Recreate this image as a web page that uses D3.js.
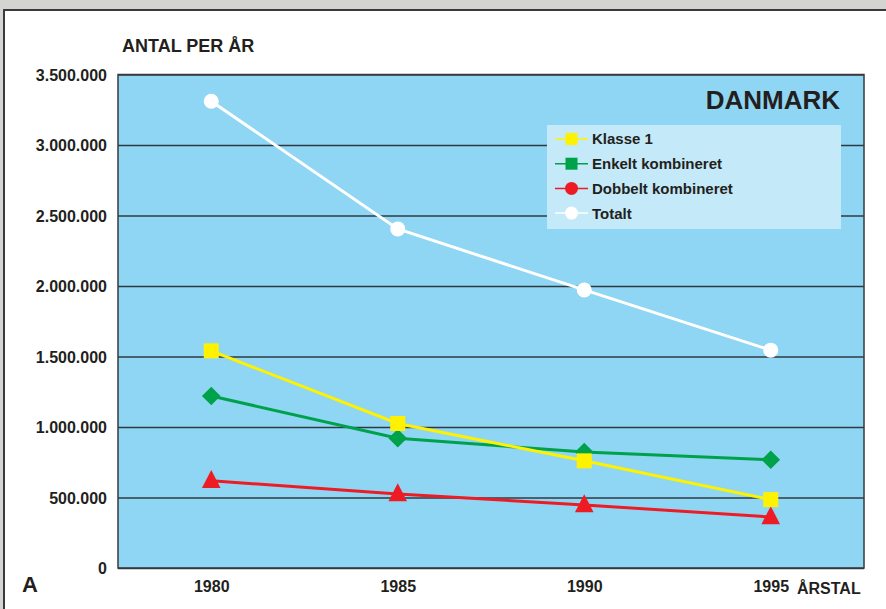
<!DOCTYPE html>
<html>
<head>
<meta charset="utf-8">
<script src="https://cdn.jsdelivr.net/npm/d3@7"></script>
<style>
  body { margin: 0; background: #d4d5d2; }
  svg { display: block; font-family: "Liberation Sans", Arial, sans-serif; font-weight: bold; }
</style>
</head>
<body>
<svg id="chart" width="886" height="609"></svg>
<script>
const years = [1980, 1985, 1990, 1995];
const klasse1 = [1540000, 1025000, 760000, 485000];
const enkelt = [1220000, 920000, 822000, 768000];
const dobbelt = [618000, 525000, 447000, 362000];
const totalt = [3310000, 2405000, 1972000, 1545000];
const yTicks = [0, 500000, 1000000, 1500000, 2000000, 2500000, 3000000, 3500000];
const seriesNames = ["Klasse 1", "Enkelt kombineret", "Dobbelt kombineret", "Totalt"];

const series = [
  { name: seriesNames[0], values: klasse1, color: "#fff200", marker: "square", legendMarker: "square" },
  { name: seriesNames[1], values: enkelt, color: "#00a14b", marker: "diamond", legendMarker: "square" },
  { name: seriesNames[2], values: dobbelt, color: "#ed1c24", marker: "triangle", legendMarker: "circle" },
  { name: seriesNames[3], values: totalt, color: "#ffffff", marker: "circle", legendMarker: "circle" }
];

const svg = d3.select("#chart");
// white page panel
svg.append("rect").attr("x", 4).attr("y", 10).attr("width", 900).attr("height", 620)
  .attr("fill", "#fff").attr("stroke", "#3a3a3a").attr("stroke-width", 2);

const plot = { left: 118, right: 864, top: 74.5, bottom: 568 };

const x = d3.scaleLinear().domain([1977.5, 1997.5]).range([plot.left, plot.right]);
const y = d3.scaleLinear().domain([0, 3500000]).range([plot.bottom, plot.top]);
const fmt = v => d3.format(",")(v).replace(/,/g, ".");

svg.append("rect").attr("x", plot.left).attr("y", plot.top)
  .attr("width", plot.right - plot.left).attr("height", plot.bottom - plot.top)
  .attr("fill", "#8fd6f4");

// grid lines
const yAxis = d3.axisLeft(y).tickValues(yTicks).tickSize(-(plot.right - plot.left)).tickFormat(fmt).tickPadding(12);
const yg = svg.append("g").attr("transform", `translate(${plot.left},0)`).call(yAxis);
yg.select(".domain").remove();
yg.selectAll(".tick line").attr("stroke", "#2f3a40").attr("stroke-width", 1.3);
yg.selectAll(".tick text").attr("fill", "#231f20").attr("font-size", 16)
  .attr("font-family", "Liberation Sans, Arial, sans-serif").attr("font-weight", "bold")
  .attr("x", -11).attr("dy", "0.35em");

// plot border
svg.append("rect").attr("x", plot.left).attr("y", plot.top)
  .attr("width", plot.right - plot.left).attr("height", plot.bottom - plot.top)
  .attr("fill", "none").attr("stroke", "#3a3a3a").attr("stroke-width", 1.5);

const xAxis = d3.axisBottom(x).tickValues(years).tickSize(0).tickFormat(d3.format("d")).tickPadding(13);
const xg = svg.append("g").attr("transform", `translate(0,${plot.bottom})`).call(xAxis);
xg.select(".domain").remove();
xg.selectAll(".tick text").attr("fill", "#231f20").attr("font-size", 16)
  .attr("font-family", "Liberation Sans, Arial, sans-serif").attr("font-weight", "bold");

svg.append("text").attr("x", 797).attr("y", 594).attr("font-size", 16).attr("fill", "#231f20").text("ÅRSTAL");
svg.append("text").attr("x", 122).attr("y", 52).attr("font-size", 18).attr("fill", "#231f20").text("ANTAL PER ÅR");
svg.append("text").attr("x", 22).attr("y", 592).attr("font-size", 22).attr("fill", "#231f20").text("A");
svg.append("text").attr("x", 840).attr("y", 109).attr("text-anchor", "end").attr("font-size", 26).attr("fill", "#231f20").text("DANMARK");

function drawMarker(g, type, color, cx, cy, s) {
  if (type === "square") {
    g.append("rect").attr("x", cx - s / 2).attr("y", cy - s / 2).attr("width", s).attr("height", s).attr("fill", color);
  } else if (type === "diamond") {
    const r = s * 0.62;
    g.append("path").attr("d", `M${cx},${cy - r}L${cx + r},${cy}L${cx},${cy + r}L${cx - r},${cy}Z`).attr("fill", color);
  } else if (type === "triangle") {
    const h = s * 1.2;
    g.append("path").attr("d", `M${cx},${cy - h * 0.6}L${cx + s * 0.62},${cy + h * 0.4}L${cx - s * 0.62},${cy + h * 0.4}Z`).attr("fill", color);
  } else {
    g.append("circle").attr("cx", cx).attr("cy", cy).attr("r", s / 2).attr("fill", color);
  }
}

const line = d3.line().x((d, i) => x(years[i])).y(d => y(d));
const draw = [series[3], series[2], series[1], series[0]];
draw.forEach(s => {
  svg.append("path").attr("d", line(s.values)).attr("fill", "none")
    .attr("stroke", s.color).attr("stroke-width", 3);
});
draw.forEach(s => {
  const g = svg.append("g");
  s.values.forEach((v, i) => drawMarker(g, s.marker, s.color, x(years[i]), y(v), 15));
});

// legend
const lg = svg.append("g");
lg.append("rect").attr("x", 547).attr("y", 125).attr("width", 294).attr("height", 104).attr("fill", "#c4e9f8");
series.forEach((s, i) => {
  const cy = 139 + i * 24.7;
  lg.append("line").attr("x1", 555).attr("x2", 588).attr("y1", cy).attr("y2", cy)
    .attr("stroke", s.color).attr("stroke-width", 1.5);
  drawMarker(lg, s.legendMarker, s.color, 571.5, cy, s.legendMarker === "circle" ? 13 : 12);
  lg.append("text").attr("x", 592).attr("y", cy).attr("dy", "0.36em").attr("font-size", 15)
    .attr("fill", "#231f20").text(s.name);
});
</script>
</body>
</html>
